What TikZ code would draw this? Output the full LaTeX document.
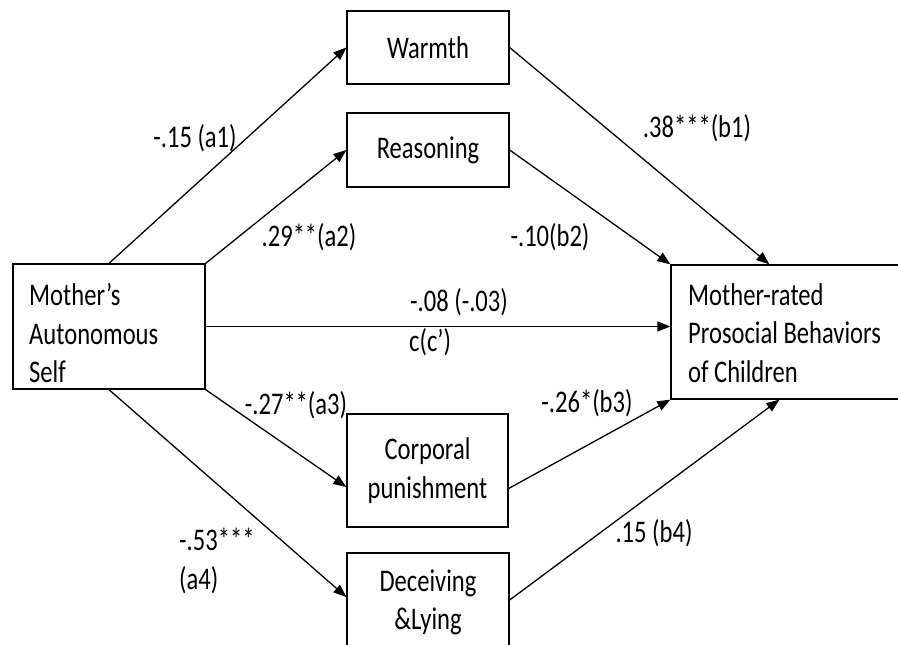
\documentclass[tikz,border=0pt]{standalone}
\usepackage{fontspec}
\setmainfont{Carlito}[FakeStretch=0.78]
\usetikzlibrary{arrows.meta,calc}

\tikzset{
  box/.style={draw, line width=1.3pt, inner sep=0pt},
  boxtext/.style={font=\fontsize{31.5}{38.5}\selectfont, align=center},
  coef/.style={font=\fontsize{31.5}{38.5}\selectfont, inner sep=0pt},
  path/.style={line width=1.3pt, -{Triangle[length=13pt,width=10pt]}}
}

\begin{document}
\begin{tikzpicture}[x=1pt, y=-1pt]
  \path[use as bounding box] (0,0) rectangle (898,645);
  \clip (0,0) rectangle (898,645);

  % predictor, mediators and outcome
  \node[box, minimum width=192pt, minimum height=125pt] (mother) at (109,326.5) {};
  \node[coef, align=left, anchor=west] (mothertext) at (29,333) {Mother’s\\Autonomous\\Self};

  \node[box, boxtext, minimum width=162pt, minimum height=73pt] (warmth) at (428,47.5) {Warmth};
  \node[box, boxtext, minimum width=162pt, minimum height=74pt] (reason) at (428,150) {Reasoning};
  \node[box, boxtext, minimum width=161pt, minimum height=113pt] (corp) at (427.5,470.5) {Corporal\\punishment};
  \node[box, boxtext, minimum width=162pt, minimum height=99pt] (deceive) at (428,602.5) {Deceiving\\\&Lying};

  \node[box, minimum width=231pt, minimum height=134pt] (outcome) at (786.5,332) {};
  \node[coef, align=left, anchor=west] (outcometext) at (688,333)
        {Mother-rated\\Prosocial Behaviors\\of Children};

  % a paths
  \draw[path] (mother.north) -- (warmth.west);
  \draw[path] (mother.north east) -- (reason.west);
  \draw[path] (mother.south east) -- ($(corp.west)+(0,16.5)$);
  \draw[path] (mother.south) -- ($(deceive.west)+(0,-5.5)$);

  % direct path
  \draw[path] (mother.east) -- (mother.east -| outcome.west);

  % b paths
  \draw[path] (warmth.east) -- ($(outcome.north west)+(99,0)$);
  \draw[path] (reason.east) -- (outcome.north west);
  \draw[path] ($(corp.east)+(0,18)$) -- (outcome.south west);
  \draw[path] ($(deceive.east)+(0,-2.5)$) -- ($(outcome.south west)+(109,0)$);

  % coefficients
  \node[coef] (la1) at (195,138) {-.15 (a1)};
  \node[coef] (la2) at (309,237) {.29**(a2)};
  \node[coef] (lb1) at (697,128) {.38***(b1)};
  \node[coef] (lb2) at (550,237) {-.10(b2)};
  \node[coef] (lc) at (459,302) {-.08 (-.03)};
  \node[coef, anchor=west] (lcp) at (409,342) {c(c’)};
  \node[coef] (la3) at (296,405) {-.27**(a3)};
  \node[coef] (lb3) at (587,403) {-.26*(b3)};
  \node[coef] (lb4) at (654,533) {.15 (b4)};
  \node[coef, align=left, anchor=west] (la4) at (179,561) {-.53***\\(a4)};
\end{tikzpicture}
\end{document}
